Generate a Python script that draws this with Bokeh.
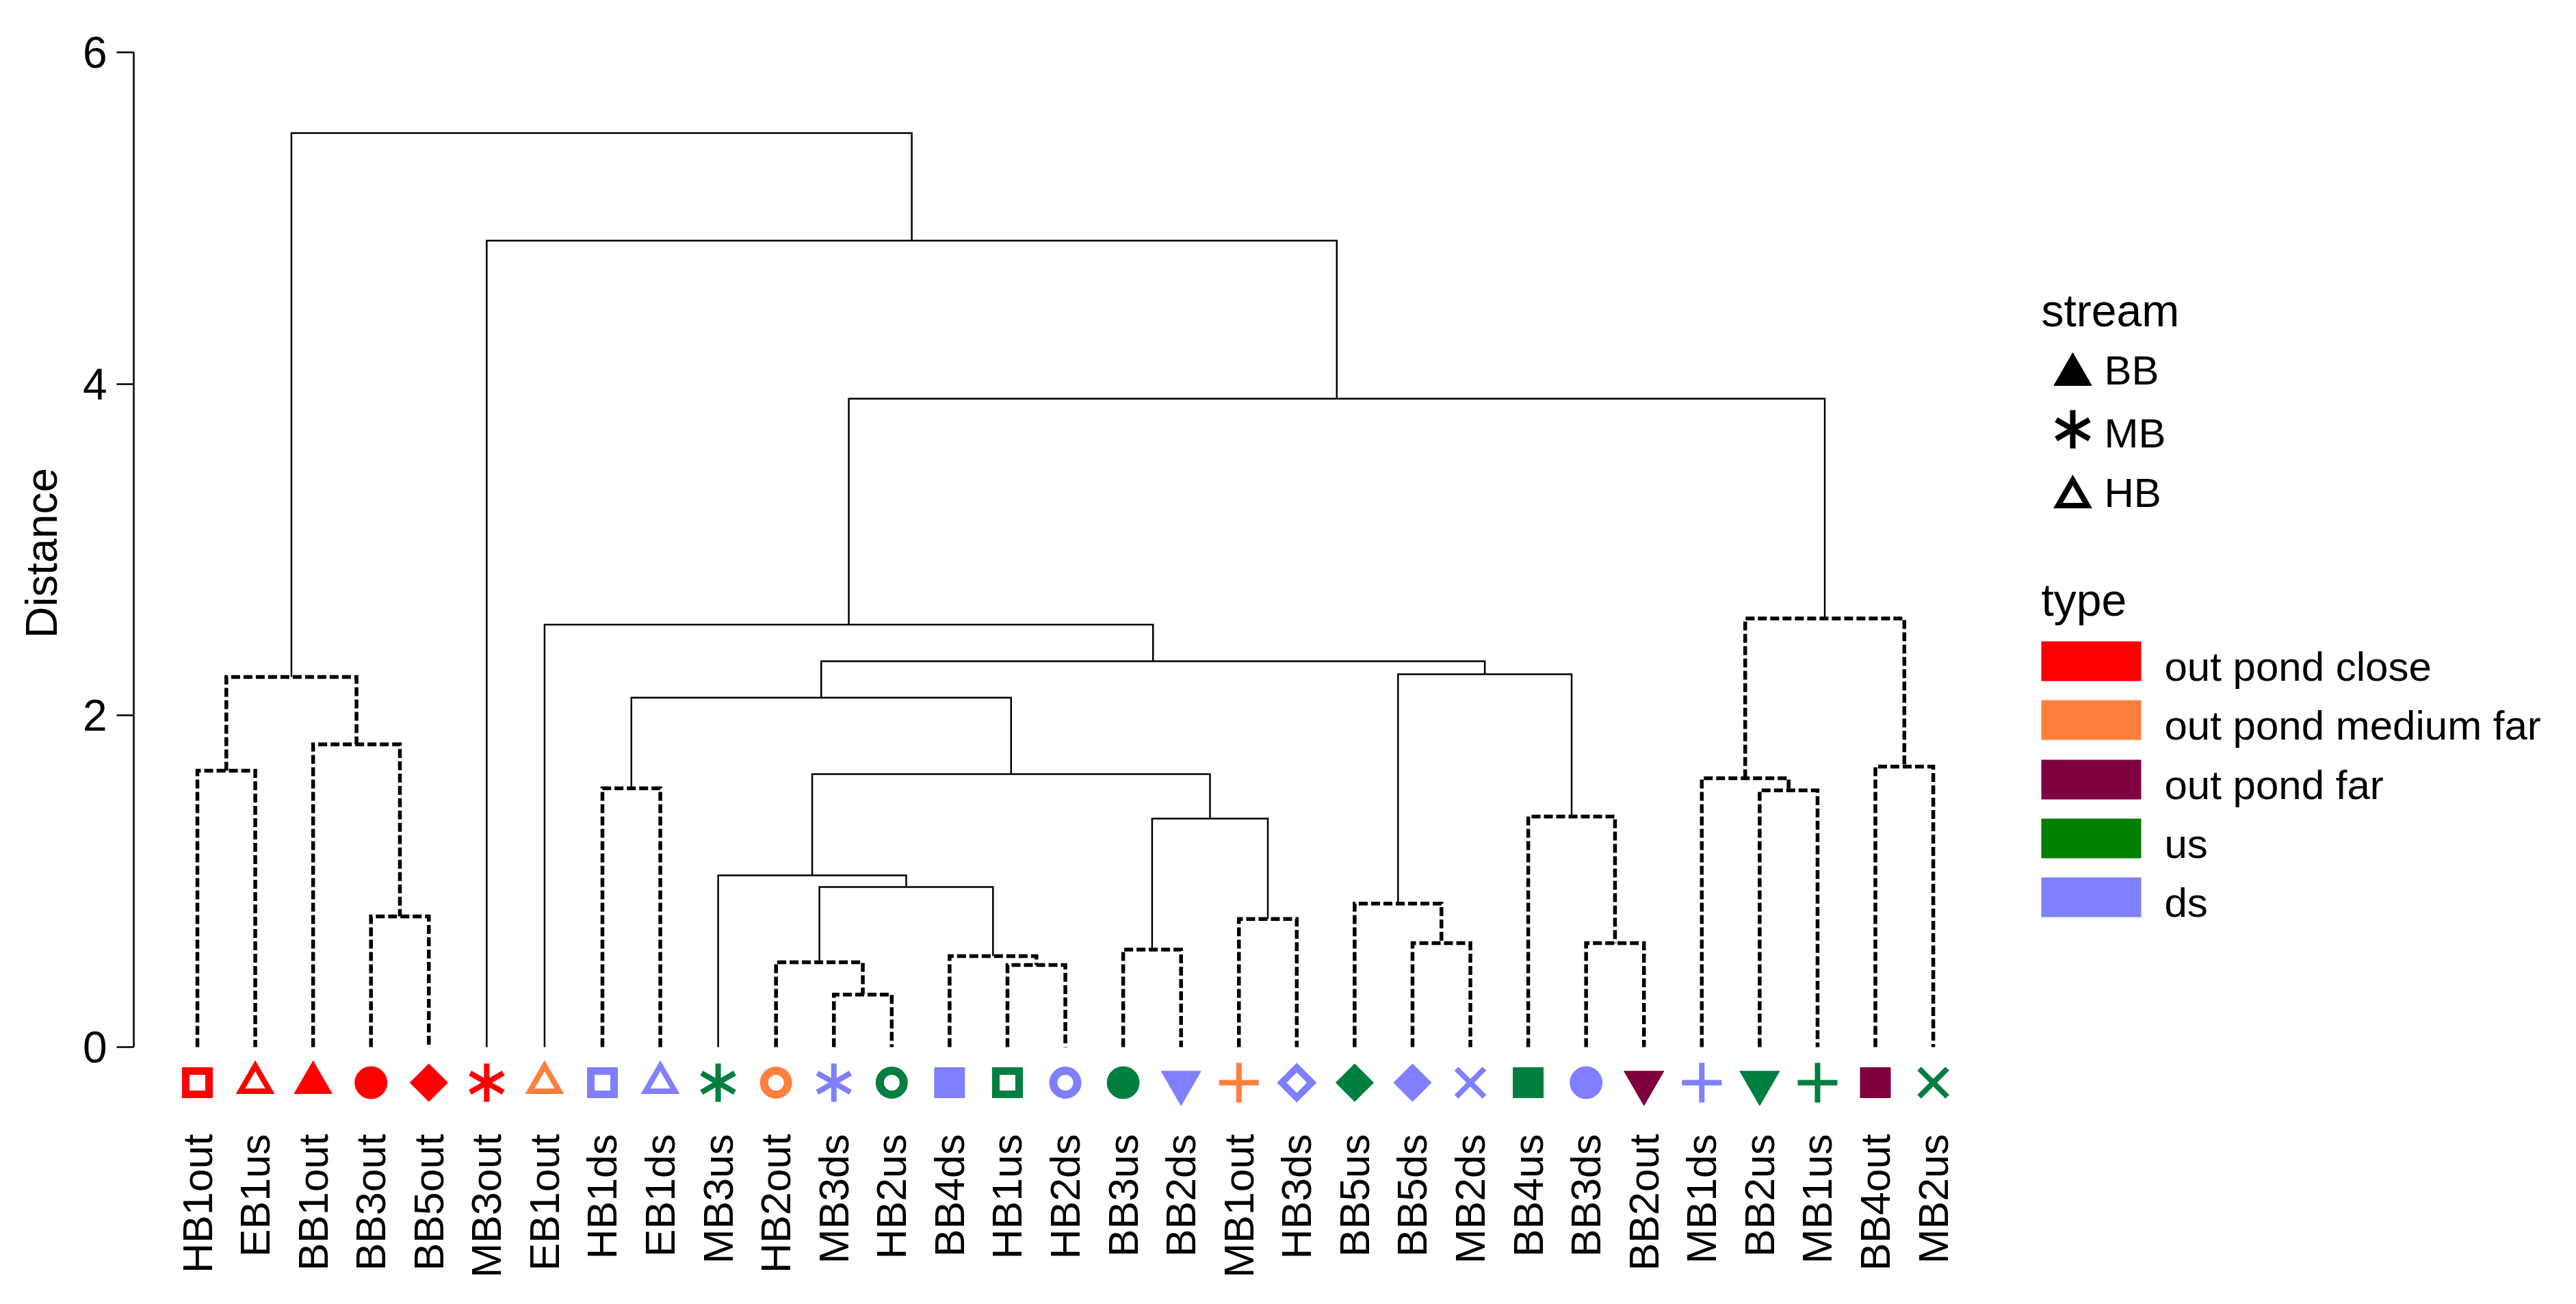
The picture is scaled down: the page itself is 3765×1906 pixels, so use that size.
import math
from bokeh.plotting import figure
from bokeh.models import FixedTicker, ColumnDataSource, Range1d
from bokeh.core.properties import value
from bokeh.embed import file_html
from bokeh.resources import INLINE

# ---------------- data ----------------
leaf_labels = ["HB1out", "EB1us", "BB1out", "BB3out", "BB5out", "MB3out", "EB1out",
               "HB1ds", "EB1ds", "MB3us", "HB2out", "MB3ds", "HB2us", "BB4ds", "HB1us",
               "HB2ds", "BB3us", "BB2ds", "MB1out", "HB3ds", "BB5us", "BB5ds", "MB2ds",
               "BB4us", "BB3ds", "BB2out", "MB1ds", "BB2us", "MB1us", "BB4out", "MB2us"]

leaf_type = ["out pond close", "out pond close", "out pond close", "out pond close",
             "out pond close", "out pond close", "out pond medium far", "ds", "ds", "us",
             "out pond medium far", "ds", "us", "ds", "us", "ds", "us", "ds",
             "out pond medium far", "ds", "us", "ds", "ds", "us", "ds", "out pond far",
             "ds", "us", "us", "out pond far", "us"]

leaf_shape = ["open square", "open triangle", "filled triangle", "filled circle",
              "filled diamond", "asterisk", "open triangle", "open square", "open triangle",
              "asterisk", "open circle", "asterisk", "open circle", "filled square",
              "open square", "open circle", "filled circle", "filled inv triangle", "plus",
              "open diamond", "filled diamond", "filled diamond", "x", "filled square",
              "filled circle", "filled inv triangle", "plus", "filled inv triangle", "plus",
              "filled square", "x"]

# hclust-style merges: negative = leaf (1-based), positive = earlier merge (1-based)
merge_a = [-4, -1, -3, 2, -12, -11, -15, -14, 6, -10, -17, -19, 11, 10, -8, 15,
           -22, -21, -25, -24, 18, 16, -7, -28, -27, -30, 25, 23, -6, 4]
merge_b = [-5, -2, 1, 3, -13, 5, -16, 7, 8, 9, -18, -20, 12, 13, -9, 14,
           -23, 17, -26, 19, 20, 21, 22, -29, 24, -31, 26, 27, 28, 29]
merge_height = [0.788, 1.667, 1.826, 2.232, 0.317, 0.512, 0.495, 0.549, 0.966, 1.036,
                0.588, 0.773, 1.378, 1.647, 1.561, 2.108, 0.627, 0.866, 0.627, 1.391,
                2.249, 2.327, 2.548, 1.548, 1.622, 1.692, 2.585, 3.911, 4.864, 5.513]
merge_dashed = [True, True, True, True, True, True, True, True, False, False,
                True, True, False, False, True, False, True, True, True, True,
                False, False, False, True, True, True, True, False, False, False]

y_ticks = [0, 2, 4, 6]
stream_names = ["BB", "MB", "HB"]
stream_shapes = ["filled triangle", "asterisk", "open triangle"]
type_names = ["out pond close", "out pond medium far", "out pond far", "us", "ds"]

# ---------------- styles ----------------
marker_colors = {"out pond close": "#FF0000", "out pond medium far": "#FF7F3F",
                 "out pond far": "#7F003F", "us": "#007F3F", "ds": "#7F7FFF"}
legend_colors = ["#FF0000", "#FF7F3F", "#7F003F", "#007F00", "#7F7FFF"]

# shape -> list of (bokeh marker, size, angle, filled, line width)
SHAPES = {
    "open square": [("square", 34, 0.0, False, 11)],
    "open triangle": [("triangle", 43, 0.0, False, 8)],
    "filled triangle": [("triangle", 55, 0.0, True, 1)],
    "filled circle": [("circle", 47, 0.0, True, 1)],
    "filled diamond": [("square", 39, math.pi / 4, True, 1)],
    "asterisk": [("dash", 56, math.pi / 2, False, 8), ("dash", 56, math.pi / 6, False, 8),
                 ("dash", 56, -math.pi / 6, False, 8)],
    "open circle": [("circle", 35, 0.0, False, 12)],
    "filled square": [("square", 44, 0.0, True, 1)],
    "filled inv triangle": [("inverted_triangle", 58, 0.0, True, 1)],
    "plus": [("cross", 58, 0.0, False, 8)],
    "open diamond": [("square", 31, math.pi / 4, False, 10)],
    "x": [("x", 58, 0.0, False, 8)],
}

FONT = "Liberation Sans"

# ---------------- geometry (pixels of the picture) ----------------
W, H = 3749, 1890
X0, DX = 288.0, 84.57      # first leaf, leaf spacing (px)
Y0, DY = 1530.0, 242.33    # distance 0, px per unit
FRAME_LEFT = 195
FRAME_BOTTOM = 1616


def dx(px):
    return (px - X0) / DX


def dy(py):
    return (Y0 - py) / DY


p = figure(width=W, height=H, output_backend="svg", toolbar_location=None,
           x_range=Range1d(dx(FRAME_LEFT), dx(W)),
           y_range=Range1d(dy(FRAME_BOTTOM), dy(0)),
           min_border_left=FRAME_LEFT, min_border_right=0, min_border_top=0,
           min_border_bottom=H - FRAME_BOTTOM)
p.grid.visible = False
p.outline_line_color = None
p.background_fill_color = "white"
p.border_fill_color = "white"

# y axis
ax = p.yaxis[0]
ax.ticker = FixedTicker(ticks=y_ticks)
ax.bounds = (min(y_ticks), max(y_ticks))
ax.minor_tick_line_color = None
ax.major_tick_in = 0
ax.major_tick_out = 25
ax.major_tick_line_width = 2.5
ax.axis_line_width = 2.5
ax.axis_line_color = "black"
ax.major_tick_line_color = "black"
ax.major_label_text_font = FONT
ax.major_label_text_font_size = "64px"
ax.major_label_text_color = "black"
ax.major_label_standoff = 14
ax.axis_label = "Distance"
ax.axis_label_text_font = FONT
ax.axis_label_text_font_size = "64px"
ax.axis_label_text_font_style = "normal"
ax.axis_label_text_color = "black"
ax.axis_label_standoff = 21

# x axis: leaf labels only
n = len(leaf_labels)
xa = p.xaxis[0]
xa.ticker = FixedTicker(ticks=list(range(n)))
xa.major_label_overrides = {i: lab for i, lab in enumerate(leaf_labels)}
xa.major_label_orientation = math.pi / 2
xa.axis_line_color = None
xa.major_tick_line_color = None
xa.minor_tick_line_color = None
xa.major_tick_in = 0
xa.major_tick_out = 0
xa.major_label_standoff = 1657 - FRAME_BOTTOM
xa.major_label_text_font = FONT
xa.major_label_text_font_size = "61px"
xa.major_label_text_color = "black"

# ---------------- dendrogram ----------------
node_x, node_h = [], []


def pos(ref):
    if ref < 0:
        return float(-ref - 1), 0.0
    return node_x[ref - 1], node_h[ref - 1]


solid_xs, solid_ys, dash_xs, dash_ys = [], [], [], []
for a, b, h, d in zip(merge_a, merge_b, merge_height, merge_dashed):
    xa_, ha = pos(a)
    xb_, hb = pos(b)
    xs = [xa_, xa_, xb_, xb_]
    ys = [ha, h, h, hb]
    if d:
        dash_xs.append(xs)
        dash_ys.append(ys)
    else:
        solid_xs.append(xs)
        solid_ys.append(ys)
    node_x.append((xa_ + xb_) / 2.0)
    node_h.append(h)

p.multi_line(xs=solid_xs, ys=solid_ys, line_color="black", line_width=2.5,
             line_join="miter")
p.multi_line(xs=dash_xs, ys=dash_ys, line_color="black", line_width=5.5,
             line_dash="13 5", line_join="miter")

# ---------------- markers ----------------
MARK_Y = dy(1582)
mk = dict(x=[], y=[], marker=[], size=[], angle=[], color=[], fa=[], lw=[])


def add_marker(xv, yv, shape, color):
    for (m_, s_, a_, filled, lw) in SHAPES[shape]:
        mk["x"].append(xv)
        mk["y"].append(yv)
        mk["marker"].append(m_)
        mk["size"].append(s_)
        mk["angle"].append(a_)
        mk["color"].append(color)
        mk["fa"].append(1.0 if filled else 0.0)
        mk["lw"].append(lw)


for i in range(n):
    add_marker(float(i), MARK_Y, leaf_shape[i], marker_colors[leaf_type[i]])

# stream legend markers
LEG_X = 2983
stream_marker_y = [547, 627, 726]
for k, s in enumerate(stream_names):
    add_marker(dx(3029), dy(stream_marker_y[k]), stream_shapes[k], "black")

src = ColumnDataSource(mk)
p.scatter(x="x", y="y", marker="marker", size="size", angle="angle", source=src,
          fill_color="color", fill_alpha="fa", line_color="color", line_width="lw",
          line_join="miter")

# ---------------- legends ----------------
p.text(x=[dx(LEG_X), dx(LEG_X)], y=[dy(453), dy(876)], text=["stream", "type"],
       text_align="left", text_baseline="middle", text_font=value(FONT),
       text_font_size="66px", text_color="black")

stream_mid = [541, 633, 720]
p.text(x=[dx(3075)] * len(stream_names), y=[dy(v) for v in stream_mid],
       text=stream_names, text_align="left", text_baseline="middle",
       text_font=value(FONT), text_font_size="60px", text_color="black")

rect_centers = [966, 1052, 1139, 1225, 1311]
rect_h = 58
p.quad(left=[dx(2983)] * len(type_names), right=[dx(3129)] * len(type_names),
       top=[dy(c - rect_h / 2) for c in rect_centers],
       bottom=[dy(c + rect_h / 2) for c in rect_centers],
       fill_color=legend_colors, line_color=None)
p.text(x=[dx(3163)] * len(type_names), y=[dy(c + rect_h / 2 - 21) for c in rect_centers],
       text=type_names, text_align="left", text_baseline="middle",
       text_font=value(FONT), text_font_size="60px", text_color="black")

open("out.html", "w").write(file_html(p, INLINE))
